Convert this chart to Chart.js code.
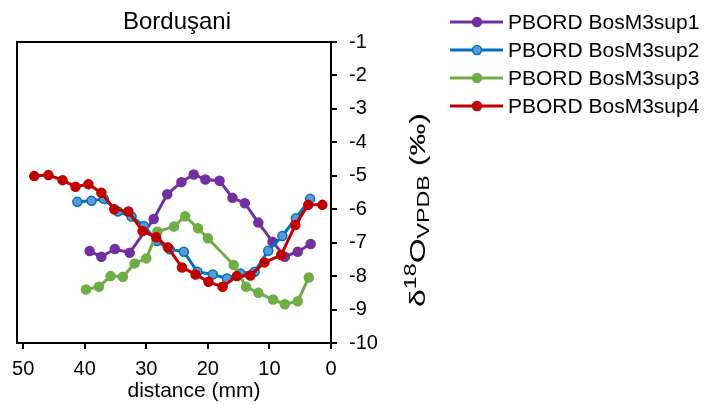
<!DOCTYPE html>
<html>
<head>
<meta charset="utf-8">
<script src="https://cdn.jsdelivr.net/npm/chart.js@4"></script>
<style>
  html, body { margin: 0; padding: 0; background: #fff; }
  canvas { display: block; }
</style>
</head>
<body>
<canvas id="chart" width="705" height="405"></canvas>
<script>
// distance (mm) and d18O values
const sup1Dist = [39.2, 37.3, 35.1, 32.7, 28.8, 26.6, 24.3, 22.3, 20.4, 18.1, 16.0, 14.0, 11.8, 9.5, 7.5, 5.4, 3.3];
const sup1Val  = [-7.25, -7.42, -7.19, -7.30, -6.29, -5.55, -5.19, -4.96, -5.11, -5.15, -5.66, -5.82, -6.40, -6.97, -7.42, -7.27, -7.04];

const sup2Dist = [41.2, 38.9, 36.9, 34.6, 32.4, 30.4, 28.3, 26.2, 23.9, 21.7, 19.2, 16.9, 14.7, 12.4, 10.2, 7.9, 5.7, 3.4];
const sup2Val  = [-5.78, -5.75, -5.69, -6.07, -6.22, -6.50, -6.95, -7.20, -7.27, -7.87, -7.95, -8.07, -7.92, -7.87, -7.24, -6.80, -6.27, -5.69];

const sup3Dist = [39.8, 37.7, 35.8, 33.8, 31.9, 30.0, 28.2, 25.5, 23.7, 21.6, 20.0, 15.8, 13.8, 11.8, 9.4, 7.5, 5.4, 3.6];
const sup3Val  = [-8.40, -8.32, -8.00, -8.02, -7.62, -7.47, -6.67, -6.52, -6.21, -6.57, -6.87, -7.67, -8.32, -8.50, -8.70, -8.84, -8.75, -8.04];

const sup4Dist = [48.2, 45.9, 43.6, 41.5, 39.4, 37.3, 35.2, 32.9, 30.6, 28.4, 26.5, 24.2, 22.0, 19.9, 17.6, 15.3, 13.1, 10.8, 8.1, 5.8, 3.7, 1.4];
const sup4Val  = [-5.01, -4.98, -5.13, -5.33, -5.25, -5.51, -6.00, -6.07, -6.65, -6.84, -7.14, -7.74, -7.95, -8.17, -8.32, -8.00, -7.98, -7.59, -7.37, -6.47, -5.87, -5.87];

const seriesNames = ['PBORD BosM3sup1', 'PBORD BosM3sup2', 'PBORD BosM3sup3', 'PBORD BosM3sup4'];
const lineColors  = ['#7030A0', '#0070C0', '#70AD47', '#C00000'];
const pointFills  = ['#7030A0', '#5B9BD5', '#70AD47', '#C00000'];

const xTickValues = [0, 10, 20, 30, 40, 50];

const chartTitle = 'Borduşani';
const xTitle = 'distance (mm)';

const FONT = '"Liberation Sans", Arial, sans-serif';

function toPoints(xs, ys) {
  return xs.map((x, i) => ({ x: x, y: ys[i] }));
}

const allData = [
  toPoints(sup1Dist, sup1Val),
  toPoints(sup2Dist, sup2Val),
  toPoints(sup3Dist, sup3Val),
  toPoints(sup4Dist, sup4Val)
];

// title, frame, y-axis title, x-axis title and legend
const decorations = {
  id: 'decorations',
  afterDraw(chart) {
    const ctx = chart.ctx;
    const a = chart.chartArea;
    ctx.save();

    // top and left sides of the frame
    ctx.strokeStyle = '#000';
    ctx.lineWidth = 2;
    ctx.beginPath();
    ctx.moveTo(a.left, a.bottom);
    ctx.lineTo(a.left, a.top);
    ctx.lineTo(a.right, a.top);
    ctx.stroke();

    ctx.fillStyle = '#000';
    ctx.textBaseline = 'middle';

    // chart title
    ctx.font = '24px ' + FONT;
    ctx.textAlign = 'center';
    ctx.fillText(chartTitle, 177, 22);

    // x-axis title
    ctx.font = '21px ' + FONT;
    ctx.fillText(xTitle, 194, 391);

    // y-axis title with super/subscripts (stretched along its length like the original)
    ctx.save();
    ctx.translate(417, 210);
    ctx.rotate(-Math.PI / 2);
    ctx.textAlign = 'left';
    ctx.textBaseline = 'alphabetic';
    const parts = [
      { t: 'δ', size: 22, dy: 0 },
      { t: '18', size: 16, dy: -9 },
      { t: 'O', size: 22, dy: 0 },
      { t: 'VPDB', size: 16, dy: 4 },
      { t: ' (‰)', size: 22, dy: 0 }
    ];
    let total = 0;
    parts.forEach(p => { ctx.font = p.size + 'px ' + FONT; p.w = ctx.measureText(p.t).width; total += p.w; });
    const stretch = 194 / total;
    ctx.scale(stretch, 1);
    let x = -total / 2;
    parts.forEach(p => {
      ctx.font = p.size + 'px ' + FONT;
      ctx.fillText(p.t, x, 8 + p.dy);
      x += p.w;
    });
    ctx.restore();

    // legend
    const rows = [22, 50, 78, 106];
    ctx.font = '21px ' + FONT;
    ctx.textAlign = 'left';
    ctx.textBaseline = 'middle';
    seriesNames.forEach((name, i) => {
      const y = rows[i];
      ctx.strokeStyle = lineColors[i];
      ctx.lineWidth = 3;
      ctx.beginPath();
      ctx.moveTo(450, y);
      ctx.lineTo(503, y);
      ctx.stroke();
      ctx.beginPath();
      ctx.arc(477, y, 4.5, 0, Math.PI * 2);
      ctx.fillStyle = pointFills[i];
      ctx.fill();
      ctx.lineWidth = 1.5;
      ctx.stroke();
      ctx.fillStyle = '#000';
      ctx.fillText(name, 508, y + 1);
    });

    ctx.restore();
  }
};

new Chart(document.getElementById('chart'), {
  type: 'line',
  data: {
    datasets: allData.map((pts, i) => ({
      label: seriesNames[i],
      data: pts,
      borderColor: lineColors[i],
      backgroundColor: pointFills[i],
      pointBackgroundColor: pointFills[i],
      pointBorderColor: lineColors[i],
      pointBorderWidth: 1.5,
      pointRadius: 4.5,
      borderWidth: 3,
      tension: 0,
      fill: false,
      order: 4 - i
    }))
  },
  options: {
    responsive: false,
    animation: false,
    devicePixelRatio: 1,
    layout: { padding: { left: 17, top: 42, right: 314, bottom: 0 } },
    plugins: {
      legend: { display: false },
      tooltip: { enabled: false }
    },
    scales: {
      x: {
        type: 'linear',
        position: 'bottom',
        reverse: true,
        min: 0,
        max: 51,
        afterBuildTicks: s => { s.ticks = xTickValues.map(v => ({ value: v })); },
        afterFit: s => { s.height = 62; },
        ticks: { color: '#000', font: { family: FONT, size: 20 }, padding: 8, maxRotation: 0, autoSkip: false },
        grid: { drawOnChartArea: false, drawTicks: true, tickLength: 6, color: '#000', lineWidth: 2 },
        border: { color: '#000', width: 2 }
      },
      y: {
        type: 'linear',
        position: 'right',
        min: -10,
        max: -1,
        afterFit: s => { s.width = 60; },
        ticks: { stepSize: 1, color: '#000', font: { family: FONT, size: 20 }, padding: 12 },
        grid: { drawOnChartArea: false, drawTicks: true, tickLength: 6, color: '#000', lineWidth: 2 },
        border: { color: '#000', width: 2 }
      }
    }
  },
  plugins: [decorations]
});
</script>
</body>
</html>
